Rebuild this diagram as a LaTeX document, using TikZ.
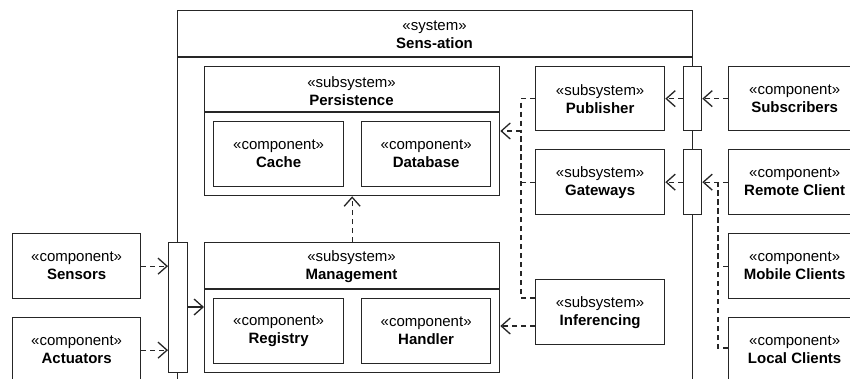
\documentclass[tikz,border=0pt]{standalone}
\usepackage{fontspec}
\setmainfont{Liberation Sans}
\usetikzlibrary{arrows.meta}
\begin{document}
\begin{tikzpicture}[x=1pt,y=-1pt,
  every node/.style={font=\fontsize{15}{18}\selectfont},
  ln/.style={line width=1.3pt, draw=black!85},
  box/.style={ln, fill=white, anchor=north west, inner sep=0pt, align=center},
  lbl/.style={align=center, inner sep=0pt},
  port/.style={ln, fill=white, anchor=north west, inner sep=0pt, minimum width=18pt},
  dsh/.style={ln, dash pattern=on 5pt off 4pt},
  dep/.style={dsh, -{Straight Barb[length=9pt,width=16pt,line width=1.3pt]}},
  sol/.style={ln, -{Straight Barb[length=9pt,width=16pt,line width=1.3pt]}}]
\useasboundingbox (0,0) rectangle (850,378);
\clip (0,0) rectangle (850,378);
\fill[white] (0,0) rectangle (850,378);

% system
\node[box, minimum width=515pt, minimum height=420pt] (sys) at (177,10) {};
\draw[ln] (177,57) -- (692,57);
\node[lbl] (syst) at (434.5,35) {«system»\\\textbf{Sens-ation}};

% persistence
\node[box, minimum width=295pt, minimum height=129pt] (pers) at (204,66) {};
\draw[ln] (204,112) -- (499,112);
\node[lbl] (perst) at (351.5,91) {«subsystem»\\\textbf{Persistence}};
\node[box, minimum width=130pt, minimum height=65pt] (cache) at (213,121) {«component»\\\textbf{Cache}};
\node[box, minimum width=129pt, minimum height=65pt] (db) at (361,121) {«component»\\\textbf{Database}};

% management
\node[box, minimum width=295pt, minimum height=130pt] (mgmt) at (204,242) {};
\draw[ln] (204,289) -- (499,289);
\node[lbl] (mgmtt) at (351.5,267) {«subsystem»\\\textbf{Management}};
\node[box, minimum width=130pt, minimum height=65pt] (reg) at (213,298) {«component»\\\textbf{Registry}};
\node[box, minimum width=129pt, minimum height=65pt] (hand) at (361,298) {«component»\\\textbf{Handler}};

% subsystems right
\node[box, minimum width=129pt, minimum height=64pt] (pub) at (535,66) {«subsystem»\\\textbf{Publisher}};
\node[box, minimum width=129pt, minimum height=65pt] (gw) at (535,149) {«subsystem»\\\textbf{Gateways}};
\node[box, minimum width=129pt, minimum height=65pt] (inf) at (535,279) {«subsystem»\\\textbf{Inferencing}};

% ports
\node[port, minimum height=64pt] (tport) at (683,66) {};
\node[port, minimum height=65pt] (bport) at (683,149) {};
\node[port, minimum width=19pt, minimum height=130pt] (lport) at (168,242) {};

% external components
\node[box, minimum width=132pt, minimum height=64pt] (subs) at (728,66) {«component»\\\textbf{Subscribers}};
\node[box, minimum width=132pt, minimum height=65pt] (rc) at (728,149) {«component»\\\textbf{Remote Client}};
\node[box, minimum width=132pt, minimum height=65pt] (mob) at (728,233) {«component»\\\textbf{Mobile Clients}};
\node[box, minimum width=132pt, minimum height=65pt] (loc) at (728,317) {«component»\\\textbf{Local Clients}};
\node[box, minimum width=128pt, minimum height=65pt] (sens) at (12,233) {«component»\\\textbf{Sensors}};
\node[box, minimum width=128pt, minimum height=65pt] (act) at (12,317) {«component»\\\textbf{Actuators}};

% connectors
\coordinate (jl) at (521,131);
\coordinate (jr) at (718,181.5);
\draw[dsh] (pub.west) -| (jl);
\draw[dsh] (gw.west) -| (jl);
\draw[dsh] (inf.west |- 0,298) -| (jl);
\draw[dep] (jl) -- (jl -| pers.east);
\draw[dep] (inf.west |- 0,326) -- (mgmt.east |- 0,326);
\draw[dep] (mgmt.north) -- (pers.south);

\draw[dep] (subs.west) -- (subs.west -| tport.east);
\draw[dep] (tport.west) -- (tport.west -| pub.east);
\draw[dep] (rc.west) -- (rc.west -| bport.east);
\draw[dep] (bport.west) -- (bport.west -| gw.east);
\draw[dsh] (mob.west) -| (jr);
\draw[dsh] (loc.west |- 0,348) -| (jr);

\draw[dep] (sens.east) -- (sens.east -| lport.west);
\draw[dep] (act.east) -- (act.east -| lport.west);
\draw[sol] (lport.east |- 0,307) -- (mgmt.west |- 0,307);
\end{tikzpicture}
\end{document}
